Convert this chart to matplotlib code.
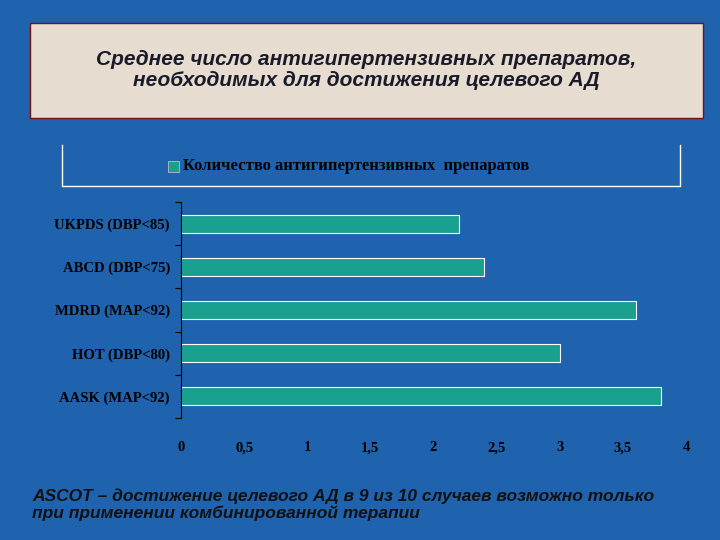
import matplotlib.pyplot as plt
from matplotlib.patches import Rectangle

studies = ["UKPDS (DBP<85)", "ABCD (DBP<75)", "MDRD (MAP<92)", "HOT (DBP<80)", "AASK (MAP<92)"]
n_drugs = [2.2, 2.4, 3.6, 3.0, 3.8]
xticks = [0, 0.5, 1, 1.5, 2, 2.5, 3, 3.5, 4]
xtick_labels = ["0", "0,5", "1", "1,5", "2", "2,5", "3", "3,5", "4"]

bg = "#1f62ad"
fig = plt.figure(figsize=(7.2, 5.4), dpi=100)
fig.patch.set_facecolor(bg)

# title box
fig.patches.append(Rectangle((30/720, 1-118/540), 673/720, 95/540, transform=fig.transFigure,
                             facecolor="#e6ddd0", edgecolor="#7a1010", lw=1))
fig.text(366/720, 1-70/540, "Среднее число антигипертензивных препаратов,\nнеобходимых для достижения целевого АД",
         ha="center", va="center", fontsize=15, style="italic", weight="bold", color="#1a1a2a",
         family="Liberation Sans", linespacing=1.15)

# legend frame (open top)
fig.lines.append(plt.Line2D([62/720, 62/720, 680/720, 680/720], [1-145/540, 1-186/540, 1-186/540, 1-145/540],
                            transform=fig.transFigure, color="white", lw=1))
fig.patches.append(Rectangle((168/720, 1-172/540), 11/720, 11/540, transform=fig.transFigure,
                             facecolor="#1aa08e", edgecolor="#cccccc", lw=0.5))
fig.text(183/720, 1-166/540, "Количество антигипертензивных  препаратов", ha="left", va="center",
         fontsize=12, weight="bold", family="Liberation Serif", color="black")

ax = fig.add_axes([181/720, 1-418/540, 505/720, 216/540])
ax.set_facecolor(bg)
y = list(range(len(studies)))
ax.barh(y, n_drugs, height=0.42, color="#1aa08e", edgecolor="white", linewidth=0.8)
ax.set_ylim(len(studies) - 0.5, -0.5)
ax.set_xlim(0, 4)
ax.set_yticks([i + 0.5 for i in range(-1, len(studies))], minor=False)
ax.set_yticklabels([])
ax.set_yticks(y, minor=True)
ax.set_yticklabels(studies, minor=True, fontsize=10.5, weight="bold", family="Liberation Serif")
ax.tick_params(axis="y", which="minor", length=0, pad=8)
ax.tick_params(axis="y", which="major", length=4, color="black")
ax.set_xticks(xticks)
ax.set_xticklabels(xtick_labels, fontsize=10.5, weight="bold", family="Liberation Serif", va="baseline")
ax.tick_params(axis="x", length=0, pad=24)
for s in ["top", "right", "bottom"]:
    ax.spines[s].set_visible(False)
ax.spines["left"].set_color("black")

fig.text(32/720, 1-505/540, "ASCOT – достижение целевого АД в 9 из 10 случаев возможно только\nпри применении комбинированной терапии",
         ha="left", va="center", fontsize=12.5, style="italic", weight="bold", color="#111111",
         family="Liberation Sans", linespacing=1.1)

fig.savefig("out.png", dpi=100, facecolor=fig.get_facecolor())
